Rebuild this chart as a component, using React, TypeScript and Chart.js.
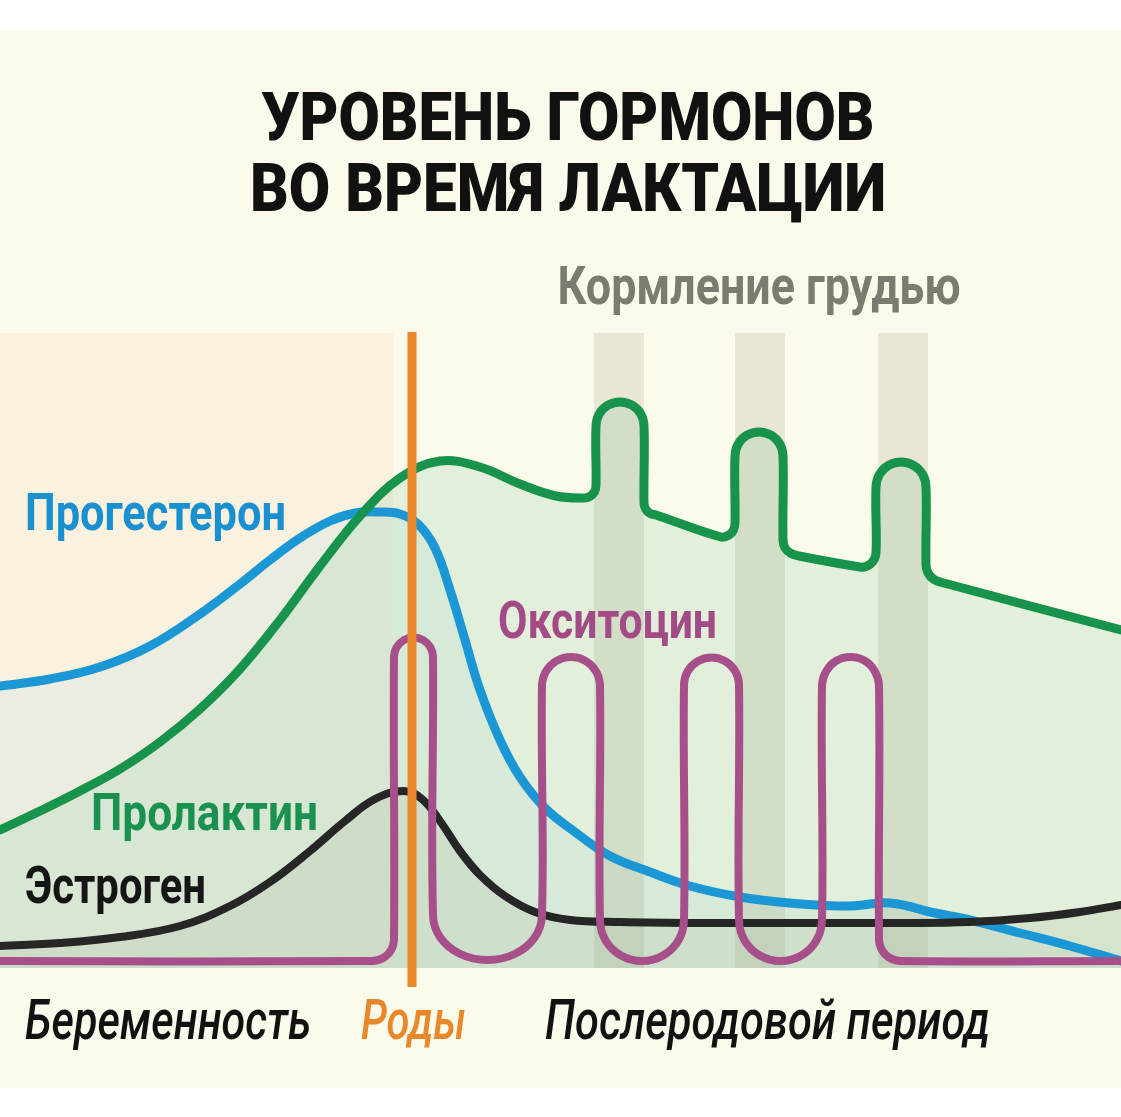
import { useEffect, useRef } from 'react';
import { Chart, registerables } from 'chart.js';

Chart.register(...registerables);

// ---------- text ----------
const titleLines = ['УРОВЕНЬ ГОРМОНОВ', 'ВО ВРЕМЯ ЛАКТАЦИИ'];
const hormoneNames = ['Прогестерон', 'Пролактин', 'Эстроген', 'Окситоцин'];
const phaseLabels = ['Беременность', 'Роды', 'Послеродовой период'];
const feedingLabel = 'Кормление грудью';

// ---------- time markers (x units) ----------
const pregnancyEnd = 39.3;
const birthX = 41.2;
const feedStart = [59.4, 73.5, 87.8];
const feedEnd = [64.4, 78.5, 92.8];

// ---------- series (x = time, y = level) ----------
const progesteroneX = [0, 5, 10, 15, 20, 24, 27, 30, 33, 35.5, 38, 40, 41.8, 43.5, 45, 46.5, 48, 50, 52, 54.5, 57.5, 61, 65, 69, 74, 79, 85, 89, 93.5, 97, 102, 107, 112.1];
const progesteroneY = [28.2, 28.9, 30.1, 32.2, 35.4, 38.4, 40.8, 43.0, 44.7, 45.5, 45.6, 45.4, 44.4, 42.0, 37.8, 32.8, 27.8, 22.8, 19.1, 16.0, 13.6, 11.2, 9.6, 8.2, 7.1, 6.5, 6.2, 6.5, 5.5, 4.8, 3.5, 2.2, 0.7];

const prolactinX = [
  0, 4, 8, 12, 16, 20, 24, 28, 32, 36, 40, 44, 48, 52, 55.6,
  58.4, 59.0, 59.44, 59.6,
  59.6, 59.92, 60.8, 62, 63.2, 64.08, 64.4,
  64.4, 64.56, 65.0, 65.6,
  72.1, 72.9, 73.35, 73.5,
  73.5, 73.82, 74.7, 75.9, 77.1, 77.98, 78.3,
  78.3, 78.5, 79.1, 79.9,
  86.0, 86.6, 87.25, 87.6,
  87.6, 87.94, 88.85, 90.1, 91.35, 92.27, 92.6,
  92.6, 92.8, 93.4, 94.2,
  112.1,
];
const prolactinY = [
  13.8, 15.7, 17.7, 19.9, 22.6, 25.9, 29.9, 34.8, 40.2, 45.2, 49.0, 50.7, 50.1, 48.4, 47.2,
  47.0, 47.16, 47.6, 48.2,
  54.2, 55.4, 56.28, 56.6, 56.28, 55.4, 54.2,
  46.5, 45.9, 45.46, 45.3,
  43.1, 43.3, 43.8, 44.6,
  51.2, 52.4, 53.28, 53.6, 53.28, 52.4, 51.2,
  42.8, 42.0, 41.45, 41.2,
  40.1, 40.15, 40.6, 41.5,
  48.1, 49.35, 50.27, 50.6, 50.27, 49.35, 48.1,
  40.3, 39.5, 38.85, 38.55,
  33.8,
];

const estrogenX = [0, 6, 12, 18, 23, 27, 31, 34.5, 37.5, 40.4, 42.2, 44, 46, 48, 50.5, 53.5, 57, 62, 70, 80, 90, 97, 103, 108, 112.1];
const estrogenY = [2.2, 2.5, 3.1, 4.2, 6.2, 8.6, 11.7, 14.7, 16.9, 17.7, 16.9, 14.7, 11.7, 9.3, 7.2, 5.6, 4.8, 4.6, 4.5, 4.5, 4.5, 4.6, 5.0, 5.6, 6.3];

const oxytocinX = [
  0, 37.2, 38.3, 39.11, 39.4,
  39.4, 39.66, 40.38, 41.35, 42.33, 43.04, 43.3,
  43.3, 44.03, 46.03, 48.75, 51.48, 53.47, 54.2,
  54.2, 54.59, 55.65, 57.1, 58.55, 59.61, 60,
  60, 60.56, 62.1, 64.2, 66.3, 67.84, 68.4,
  68.4, 68.77, 69.78, 71.15, 72.53, 73.53, 73.9,
  73.9, 74.46, 75.98, 78.05, 80.13, 81.64, 82.2,
  82.2, 82.62, 83.63, 85.05, 86.48, 87.48, 87.9,
  87.9, 88.19, 89.0, 90.1, 112.1,
];
const oxytocinY = [
  0.7, 0.7, 0.995, 1.8, 2.9,
  31.1, 32.08, 32.79, 33.05, 32.79, 32.08, 31.1,
  5.3, 3.05, 1.4, 0.8, 1.4, 3.05, 5.3,
  28.2, 29.65, 30.71, 31.1, 30.71, 29.65, 28.2,
  4.8, 2.75, 1.25, 0.7, 1.25, 2.75, 4.8,
  28.3, 29.68, 30.68, 31.05, 30.68, 29.68, 28.3,
  4.8, 2.75, 1.25, 0.7, 1.25, 2.75, 4.8,
  28.25, 29.68, 30.72, 31.1, 30.72, 29.68, 28.25,
  2.9, 1.8, 0.995, 0.7, 0.7,
];

const birthLineX = [birthX, birthX];
const birthLineY = [63.6, -1.9];

// ---------- layout / style ----------
const W = 1121;
const H = 1117;
const X_MAX = 112.1;
const Y_MAX = 63.5;
const CREAM = '#fcfaea';
const PEACH = '#fbf1df';
const FAMILY = 'Roboto, "Noto Sans", sans-serif';

const COLORS = {
  blue: '#1b97d5',
  green: '#18934c',
  black: '#262626',
  purple: '#a64f8a',
  orange: '#e8882a',
  grey: '#7c7b70',
};

const pts = (xs: number[], ys: number[]) => xs.map((x, i) => ({ x, y: ys[i] }));

function fitText(
  ctx: CanvasRenderingContext2D,
  text: string,
  left: number,
  baseline: number,
  width: number,
  size: number,
  weight: string,
  style: string,
  color: string
) {
  ctx.save();
  ctx.font = `${style} ${weight} ${size}px ${FAMILY}`;
  const w = ctx.measureText(text).width;
  ctx.translate(left, baseline);
  ctx.scale(width / w, 1);
  ctx.fillStyle = color;
  ctx.textAlign = 'left';
  ctx.textBaseline = 'alphabetic';
  ctx.fillText(text, 0, 0);
  ctx.restore();
}

const decorPlugin = {
  id: 'decor',
  beforeDraw(chart: any) {
    const { ctx, chartArea: a, scales } = chart;
    ctx.save();
    ctx.fillStyle = '#ffffff';
    ctx.fillRect(0, 0, W, H);
    ctx.fillStyle = CREAM;
    ctx.fillRect(0, 30, W, 1058);
    const pe = scales.x.getPixelForValue(pregnancyEnd);
    ctx.fillStyle = PEACH;
    ctx.fillRect(a.left, a.top, pe - a.left, a.bottom - a.top);
    ctx.restore();
  },
  beforeDatasetsDraw(chart: any) {
    const { ctx, chartArea: a, scales } = chart;
    ctx.save();
    ctx.fillStyle = 'rgba(135, 135, 100, 0.16)';
    for (let i = 0; i < feedStart.length; i++) {
      const x0 = scales.x.getPixelForValue(feedStart[i]);
      const x1 = scales.x.getPixelForValue(feedEnd[i]);
      ctx.fillRect(x0, a.top, x1 - x0, a.bottom - a.top);
    }
    ctx.restore();
  },
  afterDraw(chart: any) {
    const { ctx, chartArea: a, scales } = chart;
    const sx = (v: number) => scales.x.getPixelForValue(v);
    const sy = (v: number) => scales.y.getPixelForValue(v);

    // title
    fitText(ctx, titleLines[0], 568 - 613 / 2, 140, 613, 66, '900', 'normal', '#111111');
    fitText(ctx, titleLines[1], 568 - 636 / 2, 211, 636, 66, '900', 'normal', '#111111');

    // feeding label centred over feeding bands
    const fc = (sx(feedStart[0]) + sx(feedEnd[feedEnd.length - 1])) / 2;
    fitText(ctx, feedingLabel, fc - 2 - 403 / 2, a.top - 29, 403, 54, '700', 'normal', COLORS.grey);

    // hormone labels
    const hl = [
      { x: 2.5, y: 43.8, w: 261, c: '#1a90d0' },
      { x: 9.1, y: 13.8, w: 227, c: '#1a914f' },
      { x: 2.5, y: 6.5, w: 181, c: '#151515' },
      { x: 49.8, y: 33.0, w: 219, c: '#a24b87' },
    ];
    hl.forEach((l, i) => fitText(ctx, hormoneNames[i], sx(l.x), sy(l.y), l.w, 52, '700', 'normal', l.c));

    // phase labels under the axis
    const pl = [
      { x: 2.5, w: 286, c: '#111111' },
      { x: 36.1, w: 105, c: COLORS.orange },
      { x: 54.5, w: 445, c: '#111111' },
    ];
    pl.forEach((l, i) => fitText(ctx, phaseLabels[i], sx(l.x), a.bottom + 71, l.w, 55, '500', 'italic', l.c));
  },
};

export default function App() {
  const ref = useRef<HTMLCanvasElement>(null);

  useEffect(() => {
    if (!ref.current) return;
    const line = (label: string, xs: number[], ys: number[], color: string, width: number, fillColor: string | null, order: number, tension: number) => ({
      label,
      data: pts(xs, ys),
      borderColor: color,
      borderWidth: width,
      backgroundColor: fillColor ?? 'rgba(0,0,0,0)',
      fill: fillColor ? 'origin' : false,
      pointRadius: 0,
      pointHoverRadius: 0,
      tension,
      order,
      borderJoinStyle: 'round' as const,
      borderCapStyle: 'round' as const,
    });

    const chart = new Chart(ref.current, {
      type: 'line',
      data: {
        datasets: [
          line(hormoneNames[0], progesteroneX, progesteroneY, COLORS.blue, 9, 'rgba(200, 230, 225, 0.32)', 4, 0.4),
          line(hormoneNames[2], estrogenX, estrogenY, COLORS.black, 8, 'rgba(140, 140, 100, 0.16)', 3, 0.4),
          line(hormoneNames[1], prolactinX, prolactinY, COLORS.green, 9, 'rgba(185, 222, 192, 0.38)', 2, 0.38),
          line(hormoneNames[3], oxytocinX, oxytocinY, COLORS.purple, 8, null, 1, 0.35),
          {
            label: phaseLabels[1],
            data: pts(birthLineX, birthLineY),
            borderColor: COLORS.orange,
            borderWidth: 9,
            pointRadius: 0,
            tension: 0,
            fill: false,
            clip: false as any,
            order: 0,
            borderCapStyle: 'butt' as const,
          },
        ],
      },
      options: {
        responsive: false,
        animation: false,
        events: [],
        layout: { padding: { top: 333, bottom: 149, left: 0, right: 0 } },
        scales: {
          x: { type: 'linear', min: 0, max: X_MAX, display: false },
          y: { type: 'linear', min: 0, max: Y_MAX, display: false },
        },
        plugins: {
          legend: { display: false },
          tooltip: { enabled: false },
          title: { display: false },
          filler: { drawTime: 'beforeDatasetsDraw' },
        } as any,
      },
      plugins: [decorPlugin],
    });
    return () => chart.destroy();
  }, []);

  return (
    <div style={{ position: 'absolute', left: 0, top: 0, width: W, height: H, background: '#ffffff' }}>
      <canvas ref={ref} width={W} height={H} style={{ display: 'block', width: W, height: H }} />
    </div>
  );
}
